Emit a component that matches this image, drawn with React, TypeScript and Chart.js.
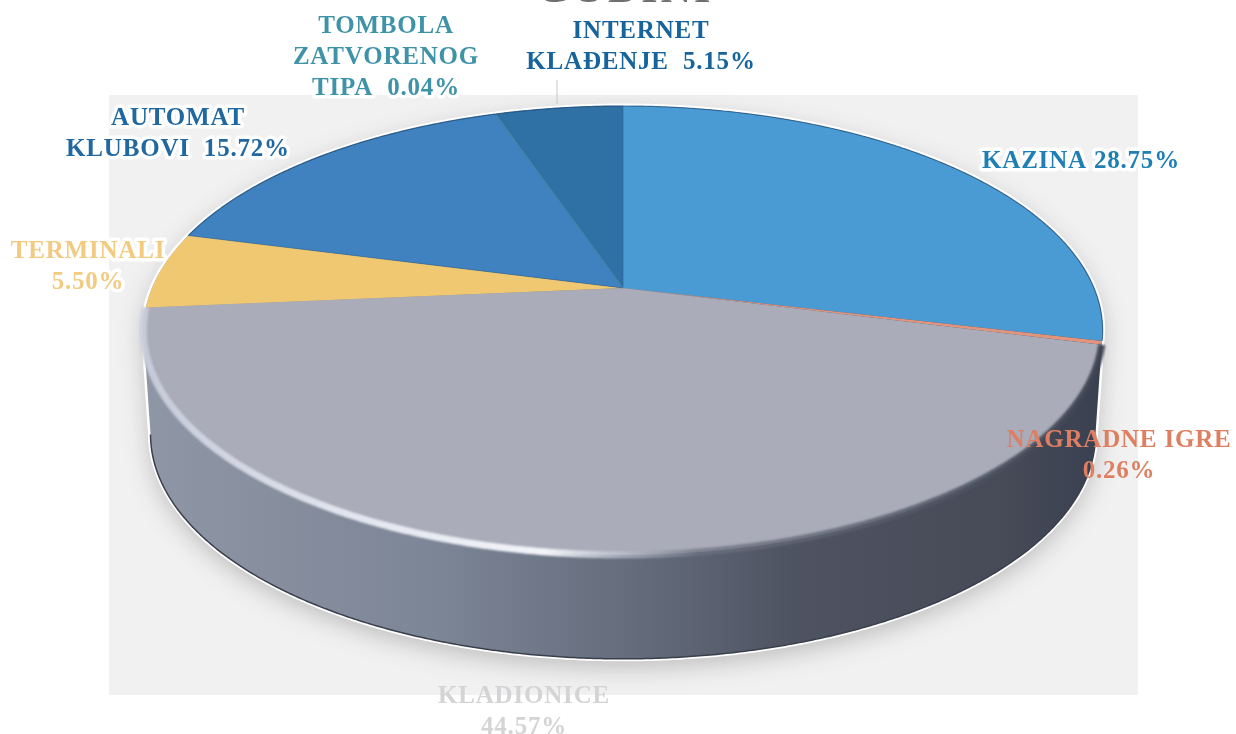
import React, { useEffect, useRef } from "react";
import { Chart, registerables } from "chart.js";

Chart.register(...registerables);

const categories = ["KAZINA", "NAGRADNE IGRE", "KLADIONICE", "TERMINALI", "AUTOMAT KLUBOVI", "TOMBOLA ZATVORENOG TIPA", "INTERNET KLAĐENJE"];
const shares = [28.75, 0.26, 44.57, 5.5, 15.72, 0.04, 5.15];
const sliceColors = ["#4a9ad4", "#e2957c", "#aaacb9", "#f0c872", "#3f82bf", "#4a8fb0", "#2f70a5"];
const titleText = "GODINI";
const labelLines = [
  ["KAZINA 28.75%"],
  ["NAGRADNE IGRE", "0.26%"],
  ["KLADIONICE", "44.57%"],
  ["TERMINALI", "5.50%"],
  ["AUTOMAT", "KLUBOVI  15.72%"],
  ["TOMBOLA", "ZATVORENOG", "TIPA  0.04%"],
  ["INTERNET", "KLAĐENJE  5.15%"],
];
const labelColors = ["#1f7fb4", "#df7f62", "#d4d4d6", "#f3cb80", "#20689f", "#3f93a8", "#17649c"];
const labelAnchors = [
  [1081, 162],
  [1119, 441],
  [524, 697],
  [88, 252],
  [178, 119],
  [386, 27],
  [641, 32],
];
const labelHalo = [true, false, false, true, true, true, false];

// Perspective of the pie's top face
const CX = 623;
const APEX_Y = 288;
const AX = 471;
const AY = 216.4;
const K = 0.189;
const DEPTH = 104;
const BASE_SHRINK = 0.985;

function project(theta: number, depth = 0, shrink = 1): [number, number] {
  const u = Math.cos(theta);
  const v = Math.sin(theta);
  const w = 1 - K * v;
  return [CX + (AX * shrink * u) / w, APEX_Y + depth + (AY * v) / w];
}

function trace(ctx: CanvasRenderingContext2D, from: number, to: number, depth = 0, shrink = 1, start = false) {
  const steps = Math.max(2, Math.ceil(Math.abs(to - from) / 0.006));
  for (let i = 0; i <= steps; i++) {
    const [x, y] = project(from + ((to - from) * i) / steps, depth, shrink);
    if (i === 0 && start) ctx.moveTo(x, y);
    else ctx.lineTo(x, y);
  }
}

const pie3d = {
  id: "pie3d",
  beforeDatasetsDraw(chart: any) {
    const ctx: CanvasRenderingContext2D = chart.ctx;
    const arcs = chart.getDatasetMeta(0).data;
    const alpha = Math.asin(K);

    // page panel behind the pie
    ctx.save();
    ctx.fillStyle = "#f1f1f1";
    ctx.fillRect(109, 95, 1029, 600);
    ctx.restore();

    const hull = () => {
      ctx.beginPath();
      trace(ctx, Math.PI - alpha, 2 * Math.PI + alpha, 0, 1, true);
      trace(ctx, alpha, Math.PI - alpha, DEPTH, BASE_SHRINK);
      ctx.closePath();
    };

    // soft shadow and white halo
    ctx.save();
    ctx.shadowColor = "rgba(90,90,90,0.35)";
    ctx.shadowBlur = 24;
    ctx.shadowOffsetY = 8;
    ctx.fillStyle = "#ffffff";
    hull();
    ctx.fill();
    ctx.restore();
    ctx.save();
    ctx.strokeStyle = "#ffffff";
    ctx.lineWidth = 5;
    hull();
    ctx.stroke();
    ctx.restore();

    // side wall
    const wall = ctx.createLinearGradient(145, 0, 1100, 0);
    wall.addColorStop(0, "#8f96a6");
    wall.addColorStop(0.3, "#7d8696");
    wall.addColorStop(0.5, "#666e7e");
    wall.addColorStop(0.68, "#4e5361");
    wall.addColorStop(0.9, "#474b58");
    wall.addColorStop(1, "#394050");
    ctx.save();
    ctx.fillStyle = wall;
    hull();
    ctx.fill();
    ctx.beginPath();
    trace(ctx, alpha, Math.PI - alpha, DEPTH, BASE_SHRINK, true);
    ctx.strokeStyle = "#3a3f4c";
    ctx.lineWidth = 1.5;
    ctx.stroke();
    ctx.restore();

    // top face slices, from the library's computed arc angles
    arcs.forEach((arc: any, i: number) => {
      ctx.save();
      ctx.beginPath();
      ctx.moveTo(CX, APEX_Y);
      trace(ctx, arc.startAngle, arc.endAngle);
      ctx.closePath();
      ctx.fillStyle = arc.options.backgroundColor;
      ctx.fill();
      if (i === 4 || i === 6) {
        ctx.strokeStyle = "rgba(30,85,130,0.45)";
        ctx.lineWidth = 1;
        ctx.stroke();
      }
      ctx.restore();
    });

    // the thinnest slice keeps a visible edge
    const thin = arcs[5];
    const [tx, ty] = project((thin.startAngle + thin.endAngle) / 2);
    ctx.save();
    ctx.beginPath();
    ctx.moveTo(CX, APEX_Y);
    ctx.lineTo(tx, ty);
    ctx.strokeStyle = thin.options.backgroundColor;
    ctx.lineWidth = 1;
    ctx.stroke();
    ctx.restore();

    // dark outline of the blue slices' outer rim
    ctx.save();
    ctx.beginPath();
    trace(ctx, arcs[4].startAngle, 2 * Math.PI + arcs[0].endAngle - (arcs[0].endAngle > Math.PI ? 2 * Math.PI : 0), 0, 1, true);
    ctx.strokeStyle = "rgba(30,80,125,0.7)";
    ctx.lineWidth = 1.2;
    ctx.stroke();
    ctx.restore();

    // bevel on the front rim of the largest slice
    const grey = arcs[2];
    const rim = ctx.createLinearGradient(145, 0, 1100, 0);
    rim.addColorStop(0, "rgba(200,204,218,0.95)");
    rim.addColorStop(0.2, "rgba(225,228,238,1)");
    rim.addColorStop(0.42, "rgba(244,245,250,1)");
    rim.addColorStop(0.5, "rgba(190,194,206,0.7)");
    rim.addColorStop(0.58, "rgba(110,115,130,0.75)");
    rim.addColorStop(1, "rgba(62,67,82,0.95)");
    ctx.save();
    (ctx as any).filter = "blur(1px)";
    ctx.beginPath();
    trace(ctx, grey.startAngle, grey.endAngle, 0, 1, true);
    ctx.strokeStyle = rim;
    ctx.lineWidth = 7;
    ctx.stroke();
    ctx.restore();

    // leader line
    ctx.save();
    ctx.strokeStyle = "#c8c8c8";
    ctx.lineWidth = 1;
    ctx.beginPath();
    ctx.moveTo(557, 80);
    ctx.lineTo(557, 104);
    ctx.stroke();
    ctx.restore();

    return false;
  },
  afterDraw(chart: any) {
    const ctx: CanvasRenderingContext2D = chart.ctx;
    ctx.save();
    ctx.textAlign = "center";
    ctx.textBaseline = "middle";
    ctx.lineJoin = "round";

    ctx.font = "bold 42px 'Liberation Serif'";
    ctx.fillStyle = "#6f6f6f";
    (ctx as any).letterSpacing = "3px";
    ctx.fillText(titleText, 625, -9);

    ctx.font = "bold 25px 'Liberation Serif'";
    (ctx as any).letterSpacing = "0.8px";
    labelLines.forEach((lines, i) => {
      const [x, y] = labelAnchors[i];
      lines.forEach((line, j) => {
        const ly = y + j * 31;
        if (labelHalo[i]) {
          ctx.strokeStyle = "#ffffff";
          ctx.lineWidth = 7;
          ctx.strokeText(line, x, ly);
        }
        ctx.fillStyle = labelColors[i];
        ctx.fillText(line, x, ly);
      });
    });
    ctx.restore();
  },
};

export default function App() {
  const ref = useRef<HTMLCanvasElement>(null);
  useEffect(() => {
    const chart = new Chart(ref.current!, {
      type: "pie",
      data: {
        labels: categories,
        datasets: [{ data: shares, backgroundColor: sliceColors, borderWidth: 0 }],
      },
      options: {
        responsive: false,
        animation: false,
        plugins: { legend: { display: false }, tooltip: { enabled: false }, title: { display: false } },
      },
      plugins: [pie3d as any],
    });
    return () => chart.destroy();
  }, []);
  return (
    <canvas
      ref={ref}
      width={1236}
      height={734}
      style={{ position: "fixed", left: 0, top: 0, width: 1236, height: 734, display: "block", background: "#ffffff" }}
    />
  );
}
